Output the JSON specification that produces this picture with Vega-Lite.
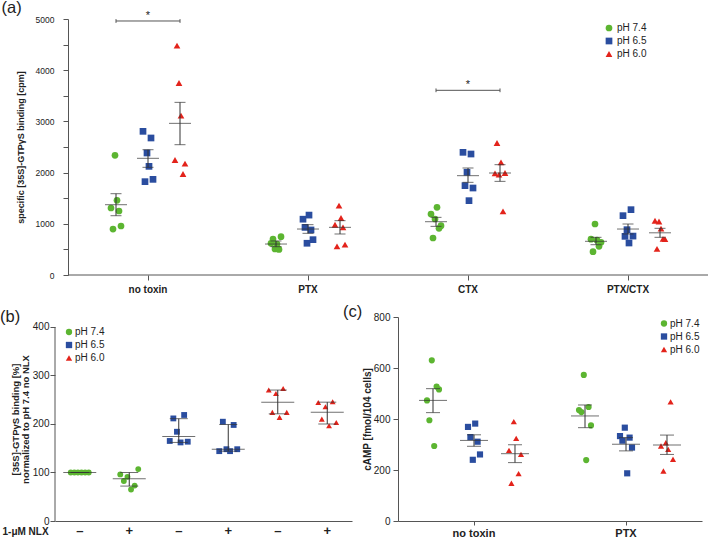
{
  "$schema": "https://vega.github.io/schema/vega-lite/v6.json",
  "background": "white",
  "padding": 0,
  "spacing": 9,
  "config": {
    "view": {"stroke": null},
    "font": "Liberation Sans",
    "axis": {"grid": false, "domainColor": "#555", "tickColor": "#555", "labelColor": "#222", "titleColor": "#222", "titleFontWeight": "bold"},
    "legend": {"labelFontSize": 10, "labelColor": "#222", "symbolSize": 45, "padding": 0, "rowPadding": 3, "labelOffset": 3, "symbolStrokeWidth": 0},
    "title": {"fontSize": 16.5, "fontWeight": "normal", "anchor": "start", "frame": "group", "color": "#222"}
  },
  "datasets": {
    "pts": [
      {"p":"a","cat":"no toxin","ph":"pH 7.4","rep":1,"v":1309},{"p":"a","cat":"no toxin","ph":"pH 7.4","rep":2,"v":898},{"p":"a","cat":"no toxin","ph":"pH 7.4","rep":3,"v":2338},{"p":"a","cat":"no toxin","ph":"pH 7.4","rep":4,"v":1459},{"p":"a","cat":"no toxin","ph":"pH 7.4","rep":5,"v":1250},{"p":"a","cat":"no toxin","ph":"pH 7.4","rep":6,"v":957},
      {"p":"a","cat":"no toxin","ph":"pH 6.5","rep":1,"v":2806},{"p":"a","cat":"no toxin","ph":"pH 6.5","rep":2,"v":1823},{"p":"a","cat":"no toxin","ph":"pH 6.5","rep":3,"v":2383},{"p":"a","cat":"no toxin","ph":"pH 6.5","rep":4,"v":2122},{"p":"a","cat":"no toxin","ph":"pH 6.5","rep":5,"v":2676},{"p":"a","cat":"no toxin","ph":"pH 6.5","rep":6,"v":1868},
      {"p":"a","cat":"no toxin","ph":"pH 6.0","rep":1,"v":2246},{"p":"a","cat":"no toxin","ph":"pH 6.0","rep":2,"v":4479},{"p":"a","cat":"no toxin","ph":"pH 6.0","rep":3,"v":3750},{"p":"a","cat":"no toxin","ph":"pH 6.0","rep":4,"v":3112},{"p":"a","cat":"no toxin","ph":"pH 6.0","rep":5,"v":1973},{"p":"a","cat":"no toxin","ph":"pH 6.0","rep":6,"v":2174},
      {"p":"a","cat":"PTX","ph":"pH 7.4","rep":1,"v":619},{"p":"a","cat":"PTX","ph":"pH 7.4","rep":2,"v":703},{"p":"a","cat":"PTX","ph":"pH 7.4","rep":3,"v":510},{"p":"a","cat":"PTX","ph":"pH 7.4","rep":4,"v":605},{"p":"a","cat":"PTX","ph":"pH 7.4","rep":5,"v":500},{"p":"a","cat":"PTX","ph":"pH 7.4","rep":6,"v":748},
      {"p":"a","cat":"PTX","ph":"pH 6.5","rep":1,"v":1090},{"p":"a","cat":"PTX","ph":"pH 6.5","rep":2,"v":930},{"p":"a","cat":"PTX","ph":"pH 6.5","rep":3,"v":620},{"p":"a","cat":"PTX","ph":"pH 6.5","rep":4,"v":1170},{"p":"a","cat":"PTX","ph":"pH 6.5","rep":5,"v":880},{"p":"a","cat":"PTX","ph":"pH 6.5","rep":6,"v":690},
      {"p":"a","cat":"PTX","ph":"pH 6.0","rep":1,"v":982},{"p":"a","cat":"PTX","ph":"pH 6.0","rep":2,"v":560},{"p":"a","cat":"PTX","ph":"pH 6.0","rep":3,"v":1354},{"p":"a","cat":"PTX","ph":"pH 6.0","rep":4,"v":1113},{"p":"a","cat":"PTX","ph":"pH 6.0","rep":5,"v":931},{"p":"a","cat":"PTX","ph":"pH 6.0","rep":6,"v":592},
      {"p":"a","cat":"CTX","ph":"pH 7.4","rep":1,"v":1191},{"p":"a","cat":"CTX","ph":"pH 7.4","rep":2,"v":723},{"p":"a","cat":"CTX","ph":"pH 7.4","rep":3,"v":1094},{"p":"a","cat":"CTX","ph":"pH 7.4","rep":4,"v":1322},{"p":"a","cat":"CTX","ph":"pH 7.4","rep":5,"v":912},{"p":"a","cat":"CTX","ph":"pH 7.4","rep":6,"v":963},
      {"p":"a","cat":"CTX","ph":"pH 6.5","rep":1,"v":2396},{"p":"a","cat":"CTX","ph":"pH 6.5","rep":2,"v":1745},{"p":"a","cat":"CTX","ph":"pH 6.5","rep":3,"v":2006},{"p":"a","cat":"CTX","ph":"pH 6.5","rep":4,"v":1452},{"p":"a","cat":"CTX","ph":"pH 6.5","rep":5,"v":2363},{"p":"a","cat":"CTX","ph":"pH 6.5","rep":6,"v":1699},
      {"p":"a","cat":"CTX","ph":"pH 6.0","rep":1,"v":1986},{"p":"a","cat":"CTX","ph":"pH 6.0","rep":2,"v":2578},{"p":"a","cat":"CTX","ph":"pH 6.0","rep":3,"v":1960},{"p":"a","cat":"CTX","ph":"pH 6.0","rep":4,"v":2201},{"p":"a","cat":"CTX","ph":"pH 6.0","rep":5,"v":1244},{"p":"a","cat":"CTX","ph":"pH 6.0","rep":6,"v":1992},
      {"p":"a","cat":"PTX/CTX","ph":"pH 7.4","rep":1,"v":700},{"p":"a","cat":"PTX/CTX","ph":"pH 7.4","rep":2,"v":455},{"p":"a","cat":"PTX/CTX","ph":"pH 7.4","rep":3,"v":996},{"p":"a","cat":"PTX/CTX","ph":"pH 7.4","rep":4,"v":680},{"p":"a","cat":"PTX/CTX","ph":"pH 7.4","rep":5,"v":560},{"p":"a","cat":"PTX/CTX","ph":"pH 7.4","rep":6,"v":640},
      {"p":"a","cat":"PTX/CTX","ph":"pH 6.5","rep":1,"v":1159},{"p":"a","cat":"PTX/CTX","ph":"pH 6.5","rep":2,"v":755},{"p":"a","cat":"PTX/CTX","ph":"pH 6.5","rep":3,"v":885},{"p":"a","cat":"PTX/CTX","ph":"pH 6.5","rep":4,"v":625},{"p":"a","cat":"PTX/CTX","ph":"pH 6.5","rep":5,"v":1276},{"p":"a","cat":"PTX/CTX","ph":"pH 6.5","rep":6,"v":760},
      {"p":"a","cat":"PTX/CTX","ph":"pH 6.0","rep":1,"v":1060},{"p":"a","cat":"PTX/CTX","ph":"pH 6.0","rep":2,"v":510},{"p":"a","cat":"PTX/CTX","ph":"pH 6.0","rep":3,"v":1045},{"p":"a","cat":"PTX/CTX","ph":"pH 6.0","rep":4,"v":905},{"p":"a","cat":"PTX/CTX","ph":"pH 6.0","rep":5,"v":705},{"p":"a","cat":"PTX/CTX","ph":"pH 6.0","rep":6,"v":700},
      {"p":"b","cat":"7.4-","ph":"pH 7.4","rep":1,"v":100},{"p":"b","cat":"7.4-","ph":"pH 7.4","rep":2,"v":100},{"p":"b","cat":"7.4-","ph":"pH 7.4","rep":3,"v":100},{"p":"b","cat":"7.4-","ph":"pH 7.4","rep":4,"v":100},{"p":"b","cat":"7.4-","ph":"pH 7.4","rep":5,"v":100},{"p":"b","cat":"7.4-","ph":"pH 7.4","rep":6,"v":100},
      {"p":"b","cat":"7.4+","ph":"pH 7.4","rep":1,"v":96},{"p":"b","cat":"7.4+","ph":"pH 7.4","rep":2,"v":82.5},{"p":"b","cat":"7.4+","ph":"pH 7.4","rep":3,"v":91},{"p":"b","cat":"7.4+","ph":"pH 7.4","rep":4,"v":65},{"p":"b","cat":"7.4+","ph":"pH 7.4","rep":5,"v":73},{"p":"b","cat":"7.4+","ph":"pH 7.4","rep":6,"v":107},
      {"p":"b","cat":"6.5-","ph":"pH 6.5","rep":1,"v":165},{"p":"b","cat":"6.5-","ph":"pH 6.5","rep":2,"v":211.5},{"p":"b","cat":"6.5-","ph":"pH 6.5","rep":3,"v":184},{"p":"b","cat":"6.5-","ph":"pH 6.5","rep":4,"v":162},{"p":"b","cat":"6.5-","ph":"pH 6.5","rep":5,"v":218.6},{"p":"b","cat":"6.5-","ph":"pH 6.5","rep":6,"v":163.5},
      {"p":"b","cat":"6.5+","ph":"pH 6.5","rep":1,"v":144},{"p":"b","cat":"6.5+","ph":"pH 6.5","rep":2,"v":204.7},{"p":"b","cat":"6.5+","ph":"pH 6.5","rep":3,"v":148},{"p":"b","cat":"6.5+","ph":"pH 6.5","rep":4,"v":144},{"p":"b","cat":"6.5+","ph":"pH 6.5","rep":5,"v":198},{"p":"b","cat":"6.5+","ph":"pH 6.5","rep":6,"v":148},
      {"p":"b","cat":"6.0-","ph":"pH 6.0","rep":1,"v":270},{"p":"b","cat":"6.0-","ph":"pH 6.0","rep":2,"v":224},{"p":"b","cat":"6.0-","ph":"pH 6.0","rep":3,"v":263},{"p":"b","cat":"6.0-","ph":"pH 6.0","rep":4,"v":213.6},{"p":"b","cat":"6.0-","ph":"pH 6.0","rep":5,"v":273},{"p":"b","cat":"6.0-","ph":"pH 6.0","rep":6,"v":224},
      {"p":"b","cat":"6.0+","ph":"pH 6.0","rep":1,"v":244.5},{"p":"b","cat":"6.0+","ph":"pH 6.0","rep":2,"v":210},{"p":"b","cat":"6.0+","ph":"pH 6.0","rep":3,"v":235.7},{"p":"b","cat":"6.0+","ph":"pH 6.0","rep":4,"v":196.5},{"p":"b","cat":"6.0+","ph":"pH 6.0","rep":5,"v":246},{"p":"b","cat":"6.0+","ph":"pH 6.0","rep":6,"v":203},
      {"p":"c","cat":"no toxin","ph":"pH 7.4","rep":1,"v":473},{"p":"c","cat":"no toxin","ph":"pH 7.4","rep":2,"v":395},{"p":"c","cat":"no toxin","ph":"pH 7.4","rep":3,"v":630},{"p":"c","cat":"no toxin","ph":"pH 7.4","rep":4,"v":294},{"p":"c","cat":"no toxin","ph":"pH 7.4","rep":5,"v":527},{"p":"c","cat":"no toxin","ph":"pH 7.4","rep":6,"v":516},
      {"p":"c","cat":"no toxin","ph":"pH 6.5","rep":1,"v":369},{"p":"c","cat":"no toxin","ph":"pH 6.5","rep":2,"v":329},{"p":"c","cat":"no toxin","ph":"pH 6.5","rep":3,"v":240},{"p":"c","cat":"no toxin","ph":"pH 6.5","rep":4,"v":382},{"p":"c","cat":"no toxin","ph":"pH 6.5","rep":5,"v":311},{"p":"c","cat":"no toxin","ph":"pH 6.5","rep":6,"v":261},
      {"p":"c","cat":"no toxin","ph":"pH 6.0","rep":1,"v":277},{"p":"c","cat":"no toxin","ph":"pH 6.0","rep":2,"v":148},{"p":"c","cat":"no toxin","ph":"pH 6.0","rep":3,"v":390},{"p":"c","cat":"no toxin","ph":"pH 6.0","rep":4,"v":324},{"p":"c","cat":"no toxin","ph":"pH 6.0","rep":5,"v":186},{"p":"c","cat":"no toxin","ph":"pH 6.0","rep":6,"v":261},
      {"p":"c","cat":"PTX","ph":"pH 7.4","rep":1,"v":435},{"p":"c","cat":"PTX","ph":"pH 7.4","rep":2,"v":427},{"p":"c","cat":"PTX","ph":"pH 7.4","rep":3,"v":573},{"p":"c","cat":"PTX","ph":"pH 7.4","rep":4,"v":239},{"p":"c","cat":"PTX","ph":"pH 7.4","rep":5,"v":447},{"p":"c","cat":"PTX","ph":"pH 7.4","rep":6,"v":375},
      {"p":"c","cat":"PTX","ph":"pH 6.5","rep":1,"v":333},{"p":"c","cat":"PTX","ph":"pH 6.5","rep":2,"v":315},{"p":"c","cat":"PTX","ph":"pH 6.5","rep":3,"v":366},{"p":"c","cat":"PTX","ph":"pH 6.5","rep":4,"v":187},{"p":"c","cat":"PTX","ph":"pH 6.5","rep":5,"v":327},{"p":"c","cat":"PTX","ph":"pH 6.5","rep":6,"v":288},
      {"p":"c","cat":"PTX","ph":"pH 6.0","rep":1,"v":294},{"p":"c","cat":"PTX","ph":"pH 6.0","rep":2,"v":196},{"p":"c","cat":"PTX","ph":"pH 6.0","rep":3,"v":307},{"p":"c","cat":"PTX","ph":"pH 6.0","rep":4,"v":281},{"p":"c","cat":"PTX","ph":"pH 6.0","rep":5,"v":467},{"p":"c","cat":"PTX","ph":"pH 6.0","rep":6,"v":242}
    ],
    "sum": [
      {"p":"a","cat":"no toxin","ph":"pH 7.4","v":1373,"lo":1158,"hi":1588},
      {"p":"a","cat":"no toxin","ph":"pH 6.5","v":2279,"lo":2103,"hi":2447},
      {"p":"a","cat":"no toxin","ph":"pH 6.0","v":2962,"lo":2545,"hi":3372},
      {"p":"a","cat":"PTX","ph":"pH 7.4","v":605,"lo":553,"hi":665},
      {"p":"a","cat":"PTX","ph":"pH 6.5","v":898,"lo":814,"hi":983},
      {"p":"a","cat":"PTX","ph":"pH 6.0","v":931,"lo":801,"hi":1061},
      {"p":"a","cat":"CTX","ph":"pH 7.4","v":1041,"lo":950,"hi":1126},
      {"p":"a","cat":"CTX","ph":"pH 6.5","v":1940,"lo":1810,"hi":2090},
      {"p":"a","cat":"CTX","ph":"pH 6.0","v":1992,"lo":1829,"hi":2155},
      {"p":"a","cat":"PTX/CTX","ph":"pH 7.4","v":658,"lo":592,"hi":736},
      {"p":"a","cat":"PTX/CTX","ph":"pH 6.5","v":898,"lo":801,"hi":996},
      {"p":"a","cat":"PTX/CTX","ph":"pH 6.0","v":824,"lo":736,"hi":912},
      {"p":"b","cat":"7.4-","ph":"pH 7.4","v":100,"lo":100,"hi":100},
      {"p":"b","cat":"7.4+","ph":"pH 7.4","v":87,"lo":72,"hi":100},
      {"p":"b","cat":"6.5-","ph":"pH 6.5","v":174,"lo":162,"hi":211},
      {"p":"b","cat":"6.5+","ph":"pH 6.5","v":148,"lo":144,"hi":199},
      {"p":"b","cat":"6.0-","ph":"pH 6.0","v":245,"lo":221,"hi":270},
      {"p":"b","cat":"6.0+","ph":"pH 6.0","v":224,"lo":200,"hi":245},
      {"p":"c","cat":"no toxin","ph":"pH 7.4","v":473,"lo":425,"hi":519},
      {"p":"c","cat":"no toxin","ph":"pH 6.5","v":316,"lo":293,"hi":338},
      {"p":"c","cat":"no toxin","ph":"pH 6.0","v":264,"lo":229,"hi":299},
      {"p":"c","cat":"PTX","ph":"pH 7.4","v":412,"lo":366,"hi":455},
      {"p":"c","cat":"PTX","ph":"pH 6.5","v":301,"lo":275,"hi":327},
      {"p":"c","cat":"PTX","ph":"pH 6.0","v":298,"lo":261,"hi":337}
    ],
    "sig": [
      {"cat":"no toxin","v":4961},
      {"cat":"CTX","v":3607}
    ]
  },
  "vconcat": [
    {
      "width": 653, "height": 256,
      "title": {"text": "(a)", "dx": -53.5, "offset": -7},
      "encoding": {
        "x": {"field": "cat", "type": "nominal", "title": null,
              "scale": {"domain": ["no toxin","PTX","CTX","PTX/CTX"], "paddingInner": 0, "paddingOuter": 0.040625, "align": 1},
              "axis": {"labelAngle": 0, "labelFontWeight": "bold", "labelFontSize": 10, "tickSize": 5, "labelPadding": 4, "domain": false}},
        "y": {"field": "v", "type": "quantitative", "title": "specific [35S]-GTPγS binding [cpm]",
              "scale": {"domain": [0, 5000], "nice": false},
              "axis": {"values": [0,500,1000,1500,2000,2500,3000,3500,4000,4500,5000], "format": "d", "offset": -13,
                       "labelExpr": "datum.value % 1000 == 0 ? datum.label : ''",
                       "labelFontSize": 8.5, "tickSize": 5, "labelPadding": 9, "titleFontSize": 9, "titlePadding": 10}}
      },
      "layer": [
        {"data": {"name": "sig"}, "transform": [{"filter": "datum.cat == 'CTX'"}],
         "mark": {"type": "rule", "color": "#555", "strokeWidth": 1},
         "encoding": {
           "x": {"datum": "no toxin", "type": "nominal", "bandPosition": 0},
           "x2": {"datum": "PTX/CTX", "bandPosition": 1},
           "y": {"datum": 0, "type": "quantitative", "title": "specific [35S]-GTPγS binding [cpm]", "scale": {"domain": [0, 5000], "nice": false}}
         }},
        {"data": {"name": "pts"}, "transform": [{"filter": "datum.p == 'a' && datum.ph == 'pH 7.4'"}],
         "mark": {"type": "point", "filled": true, "size": 45, "opacity": 1},
         "encoding": {
           "xOffset": {"field": "rep", "type": "quantitative", "scale": {"domain": [-20.5, 59.5], "zero": false, "nice": false}},
           "color": {"field": "ph", "type": "nominal", "scale": {"domain": ["pH 7.4","pH 6.5","pH 6.0"], "range": ["#5cb531","#2a4d9f","#e3231b"]}, "legend": {"title": null, "orient": "none", "legendX": 549, "legendY": 4}},
           "shape": {"field": "ph", "type": "nominal", "scale": {"domain": ["pH 7.4","pH 6.5","pH 6.0"], "range": ["circle","square","triangle-up"]}, "legend": {"title": null, "orient": "none", "legendX": 549, "legendY": 4}}
         }},
        {"data": {"name": "pts"}, "transform": [{"filter": "datum.p == 'a' && datum.ph == 'pH 6.5'"}],
         "mark": {"type": "point", "filled": true, "size": 45, "opacity": 1},
         "encoding": {
           "xOffset": {"field": "rep", "type": "quantitative", "scale": {"domain": [-36.5, 43.5], "zero": false, "nice": false}},
           "color": {"field": "ph", "type": "nominal", "scale": {"domain": ["pH 7.4","pH 6.5","pH 6.0"], "range": ["#5cb531","#2a4d9f","#e3231b"]}, "legend": {"title": null, "orient": "none", "legendX": 549, "legendY": 4}},
           "shape": {"field": "ph", "type": "nominal", "scale": {"domain": ["pH 7.4","pH 6.5","pH 6.0"], "range": ["circle","square","triangle-up"]}, "legend": {"title": null, "orient": "none", "legendX": 549, "legendY": 4}}
         }},
        {"data": {"name": "pts"}, "transform": [{"filter": "datum.p == 'a' && datum.ph == 'pH 6.0'"}],
         "mark": {"type": "point", "filled": true, "size": 45, "opacity": 1},
         "encoding": {
           "xOffset": {"field": "rep", "type": "quantitative", "scale": {"domain": [-52.5, 27.5], "zero": false, "nice": false}},
           "color": {"field": "ph", "type": "nominal", "scale": {"domain": ["pH 7.4","pH 6.5","pH 6.0"], "range": ["#5cb531","#2a4d9f","#e3231b"]}, "legend": {"title": null, "orient": "none", "legendX": 549, "legendY": 4}},
           "shape": {"field": "ph", "type": "nominal", "scale": {"domain": ["pH 7.4","pH 6.5","pH 6.0"], "range": ["circle","square","triangle-up"]}, "legend": {"title": null, "orient": "none", "legendX": 549, "legendY": 4}}
         }},
        {"data": {"name": "sum"}, "transform": [{"filter": "datum.p == 'a'"}],
         "mark": {"type": "rule", "color": "#333", "strokeWidth": 1},
         "encoding": {
           "xOffset": {"field": "ph", "type": "nominal", "scale": {"domain": ["pH 7.4","pH 6.5","pH 6.0"], "paddingInner": 0, "paddingOuter": 1}},
           "y": {"field": "lo", "type": "quantitative", "title": "specific [35S]-GTPγS binding [cpm]", "scale": {"domain": [0, 5000], "nice": false}},
           "y2": {"field": "hi"}
         }},
        {"data": {"name": "sum"}, "transform": [{"filter": "datum.p == 'a'"}],
         "mark": {"type": "tick", "color": "#333", "thickness": 1, "size": 22},
         "encoding": {
           "xOffset": {"field": "ph", "type": "nominal", "scale": {"domain": ["pH 7.4","pH 6.5","pH 6.0"], "paddingInner": 0, "paddingOuter": 1}}
         }},
        {"data": {"name": "sum"}, "transform": [{"filter": "datum.p == 'a'"}],
         "mark": {"type": "tick", "color": "#333", "thickness": 1, "size": 11},
         "encoding": {
           "xOffset": {"field": "ph", "type": "nominal", "scale": {"domain": ["pH 7.4","pH 6.5","pH 6.0"], "paddingInner": 0, "paddingOuter": 1}},
           "y": {"field": "lo", "type": "quantitative", "title": "specific [35S]-GTPγS binding [cpm]", "scale": {"domain": [0, 5000], "nice": false}}
         }},
        {"data": {"name": "sum"}, "transform": [{"filter": "datum.p == 'a'"}],
         "mark": {"type": "tick", "color": "#333", "thickness": 1, "size": 11},
         "encoding": {
           "xOffset": {"field": "ph", "type": "nominal", "scale": {"domain": ["pH 7.4","pH 6.5","pH 6.0"], "paddingInner": 0, "paddingOuter": 1}},
           "y": {"field": "hi", "type": "quantitative", "title": "specific [35S]-GTPγS binding [cpm]", "scale": {"domain": [0, 5000], "nice": false}}
         }},
        {"data": {"name": "sig"},
         "mark": {"type": "rule", "color": "#555", "strokeWidth": 1},
         "encoding": {
           "x": {"field": "cat", "type": "nominal", "bandPosition": 0.3},
           "x2": {"field": "cat", "bandPosition": 0.7}
         }},
        {"data": {"name": "sig"},
         "mark": {"type": "point", "shape": "M0,-1L0,1", "filled": false, "color": "#555", "strokeWidth": 1, "size": 14, "opacity": 1},
         "encoding": {
           "x": {"field": "cat", "type": "nominal", "bandPosition": 0.3}
         }},
        {"data": {"name": "sig"},
         "mark": {"type": "point", "shape": "M0,-1L0,1", "filled": false, "color": "#555", "strokeWidth": 1, "size": 14, "opacity": 1},
         "encoding": {
           "x": {"field": "cat", "type": "nominal", "bandPosition": 0.7}
         }},
        {"data": {"name": "sig"},
         "mark": {"type": "text", "text": "*", "fontSize": 11, "baseline": "alphabetic", "dy": -2, "color": "#222"},
         "encoding": {}}
      ],
      "resolve": {"scale": {"xOffset": "independent"}}
    },
    {
      "spacing": -9,
      "resolve": {"scale": {"color": "independent", "shape": "independent"}},
      "hconcat": [
        {
          "width": 297, "height": 204,
          "title": {"text": "(b)", "dx": -55, "offset": -8},
          "encoding": {
            "x": {"field": "cat", "type": "nominal", "title": "1-μM NLX",
                  "scale": {"domain": ["7.4-","7.4+","6.5-","6.5+","6.0-","6.0+"], "paddingInner": 0, "paddingOuter": 0},
                  "axis": {"labelAngle": 0, "labelExpr": "indexof(datum.label, '+') >= 0 ? '+' : '–'", "labelFontWeight": "bold", "labelFontSize": 13,
                           "ticks": false, "labelPadding": 3, "titleFontSize": 10, "titleX": -53, "titleY": 10, "titleAlign": "left", "titleBaseline": "middle", "titleAngle": 0}},
            "y": {"field": "v", "type": "quantitative", "title": ["[35S]-GTPγS binding [%]", "normalized to pH 7.4 no NLX"],
                  "scale": {"domain": [0, 420.6], "nice": false},
                  "axis": {"values": [0,100,200,300,400], "domain": false, "labelFontSize": 10, "tickSize": 5, "labelPadding": 1, "titleFontSize": 9.5, "titlePadding": 2, "titleLineHeight": 10}}
          },
          "layer": [
            {"data": {"name": "sig"}, "transform": [{"filter": "datum.cat == 'CTX'"}],
             "mark": {"type": "rule", "color": "#555", "strokeWidth": 1},
             "encoding": {
               "x": {"datum": "7.4-", "type": "nominal", "bandPosition": 0},
               "y": {"datum": 0, "type": "quantitative", "title": ["[35S]-GTPγS binding [%]", "normalized to pH 7.4 no NLX"], "scale": {"domain": [0, 420.6], "nice": false}},
               "y2": {"datum": 400}
             }},
            {"data": {"name": "pts"}, "transform": [{"filter": "datum.p == 'b'"}],
             "mark": {"type": "point", "filled": true, "size": 34, "opacity": 1},
             "encoding": {
               "xOffset": {"field": "rep", "type": "quantitative", "scale": {"domain": [-3.375, 10.375], "zero": false, "nice": false}},
               "color": {"field": "ph", "type": "nominal", "scale": {"domain": ["pH 7.4","pH 6.5","pH 6.0"], "range": ["#5cb531","#2a4d9f","#e3231b"]}, "legend": {"title": null, "orient": "none", "legendX": 9, "legendY": 10, "labelOffset": 1, "symbolSize": 40}},
               "shape": {"field": "ph", "type": "nominal", "scale": {"domain": ["pH 7.4","pH 6.5","pH 6.0"], "range": ["circle","square","triangle-up"]}, "legend": {"title": null, "orient": "none", "legendX": 9, "legendY": 10, "labelOffset": 1, "symbolSize": 40}}
             }},
            {"data": {"name": "sum"}, "transform": [{"filter": "datum.p == 'b'"}],
             "mark": {"type": "rule", "color": "#333", "strokeWidth": 1},
             "encoding": {
               "y": {"field": "lo", "type": "quantitative", "title": ["[35S]-GTPγS binding [%]", "normalized to pH 7.4 no NLX"], "scale": {"domain": [0, 420.6], "nice": false}},
               "y2": {"field": "hi"}
             }},
            {"data": {"name": "sum"}, "transform": [{"filter": "datum.p == 'b'"}],
             "mark": {"type": "tick", "color": "#333", "thickness": 1, "size": 33},
             "encoding": {}},
            {"data": {"name": "sum"}, "transform": [{"filter": "datum.p == 'b'"}],
             "mark": {"type": "tick", "color": "#333", "thickness": 1, "size": 18},
             "encoding": {
               "y": {"field": "lo", "type": "quantitative", "title": ["[35S]-GTPγS binding [%]", "normalized to pH 7.4 no NLX"], "scale": {"domain": [0, 420.6], "nice": false}}
             }},
            {"data": {"name": "sum"}, "transform": [{"filter": "datum.p == 'b'"}],
             "mark": {"type": "tick", "color": "#333", "thickness": 1, "size": 18},
             "encoding": {
               "y": {"field": "hi", "type": "quantitative", "title": ["[35S]-GTPγS binding [%]", "normalized to pH 7.4 no NLX"], "scale": {"domain": [0, 420.6], "nice": false}}
             }}
          ]
        },
        {
          "width": 304, "height": 204,
          "title": {"text": "(c)", "dx": -55, "offset": -8},
          "encoding": {
            "x": {"field": "cat", "type": "nominal", "title": null,
                  "scale": {"domain": ["no toxin","PTX"], "paddingInner": 0, "paddingOuter": 0},
                  "axis": {"labelAngle": 0, "labelFontWeight": "bold", "labelFontSize": 11, "tickSize": 4, "labelPadding": 2}},
            "y": {"field": "v", "type": "quantitative", "title": "cAMP [fmol/104 cells]",
                  "scale": {"domain": [0, 800], "nice": false},
                  "axis": {"values": [0,200,400,600,800], "labelFontSize": 10, "tickSize": 5, "labelPadding": 3, "titleFontSize": 10, "titlePadding": 1}}
          },
          "layer": [
            {"data": {"name": "pts"}, "transform": [{"filter": "datum.p == 'c' && datum.ph == 'pH 7.4'"}],
             "mark": {"type": "point", "filled": true, "size": 38, "opacity": 1},
             "encoding": {
               "xOffset": {"field": "rep", "type": "quantitative", "scale": {"domain": [-11.083, 52.25], "zero": false, "nice": false}},
               "color": {"field": "ph", "type": "nominal", "scale": {"domain": ["pH 7.4","pH 6.5","pH 6.0"], "range": ["#5cb531","#2a4d9f","#e3231b"]}, "legend": {"title": null, "orient": "none", "legendX": 261, "legendY": 1.5, "labelOffset": 1, "symbolSize": 40}},
               "shape": {"field": "ph", "type": "nominal", "scale": {"domain": ["pH 7.4","pH 6.5","pH 6.0"], "range": ["circle","square","triangle-up"]}, "legend": {"title": null, "orient": "none", "legendX": 261, "legendY": 1.5, "labelOffset": 1, "symbolSize": 40}}
             }},
            {"data": {"name": "pts"}, "transform": [{"filter": "datum.p == 'c' && datum.ph == 'pH 6.5'"}],
             "mark": {"type": "point", "filled": true, "size": 38, "opacity": 1},
             "encoding": {
               "xOffset": {"field": "rep", "type": "quantitative", "scale": {"domain": [-28.167, 35.167], "zero": false, "nice": false}},
               "color": {"field": "ph", "type": "nominal", "scale": {"domain": ["pH 7.4","pH 6.5","pH 6.0"], "range": ["#5cb531","#2a4d9f","#e3231b"]}, "legend": {"title": null, "orient": "none", "legendX": 261, "legendY": 1.5, "labelOffset": 1, "symbolSize": 40}},
               "shape": {"field": "ph", "type": "nominal", "scale": {"domain": ["pH 7.4","pH 6.5","pH 6.0"], "range": ["circle","square","triangle-up"]}, "legend": {"title": null, "orient": "none", "legendX": 261, "legendY": 1.5, "labelOffset": 1, "symbolSize": 40}}
             }},
            {"data": {"name": "pts"}, "transform": [{"filter": "datum.p == 'c' && datum.ph == 'pH 6.0'"}],
             "mark": {"type": "point", "filled": true, "size": 38, "opacity": 1},
             "encoding": {
               "xOffset": {"field": "rep", "type": "quantitative", "scale": {"domain": [-45.25, 18.083], "zero": false, "nice": false}},
               "color": {"field": "ph", "type": "nominal", "scale": {"domain": ["pH 7.4","pH 6.5","pH 6.0"], "range": ["#5cb531","#2a4d9f","#e3231b"]}, "legend": {"title": null, "orient": "none", "legendX": 261, "legendY": 1.5, "labelOffset": 1, "symbolSize": 40}},
               "shape": {"field": "ph", "type": "nominal", "scale": {"domain": ["pH 7.4","pH 6.5","pH 6.0"], "range": ["circle","square","triangle-up"]}, "legend": {"title": null, "orient": "none", "legendX": 261, "legendY": 1.5, "labelOffset": 1, "symbolSize": 40}}
             }},
            {"data": {"name": "sum"}, "transform": [{"filter": "datum.p == 'c'"}],
             "mark": {"type": "rule", "color": "#333", "strokeWidth": 1},
             "encoding": {
               "xOffset": {"field": "ph", "type": "nominal", "scale": {"domain": ["pH 7.4","pH 6.5","pH 6.0"], "paddingInner": 0, "paddingOuter": 0.354}},
               "y": {"field": "lo", "type": "quantitative", "title": "cAMP [fmol/104 cells]", "scale": {"domain": [0, 800], "nice": false}},
               "y2": {"field": "hi"}
             }},
            {"data": {"name": "sum"}, "transform": [{"filter": "datum.p == 'c'"}],
             "mark": {"type": "tick", "color": "#333", "thickness": 1, "size": 28},
             "encoding": {
               "xOffset": {"field": "ph", "type": "nominal", "scale": {"domain": ["pH 7.4","pH 6.5","pH 6.0"], "paddingInner": 0, "paddingOuter": 0.354}}
             }},
            {"data": {"name": "sum"}, "transform": [{"filter": "datum.p == 'c'"}],
             "mark": {"type": "tick", "color": "#333", "thickness": 1, "size": 14},
             "encoding": {
               "xOffset": {"field": "ph", "type": "nominal", "scale": {"domain": ["pH 7.4","pH 6.5","pH 6.0"], "paddingInner": 0, "paddingOuter": 0.354}},
               "y": {"field": "lo", "type": "quantitative", "title": "cAMP [fmol/104 cells]", "scale": {"domain": [0, 800], "nice": false}}
             }},
            {"data": {"name": "sum"}, "transform": [{"filter": "datum.p == 'c'"}],
             "mark": {"type": "tick", "color": "#333", "thickness": 1, "size": 14},
             "encoding": {
               "xOffset": {"field": "ph", "type": "nominal", "scale": {"domain": ["pH 7.4","pH 6.5","pH 6.0"], "paddingInner": 0, "paddingOuter": 0.354}},
               "y": {"field": "hi", "type": "quantitative", "title": "cAMP [fmol/104 cells]", "scale": {"domain": [0, 800], "nice": false}}
             }}
          ],
          "resolve": {"scale": {"xOffset": "independent"}}
        }
      ]
    }
  ],
  "resolve": {"scale": {"color": "independent", "shape": "independent"}}
}
